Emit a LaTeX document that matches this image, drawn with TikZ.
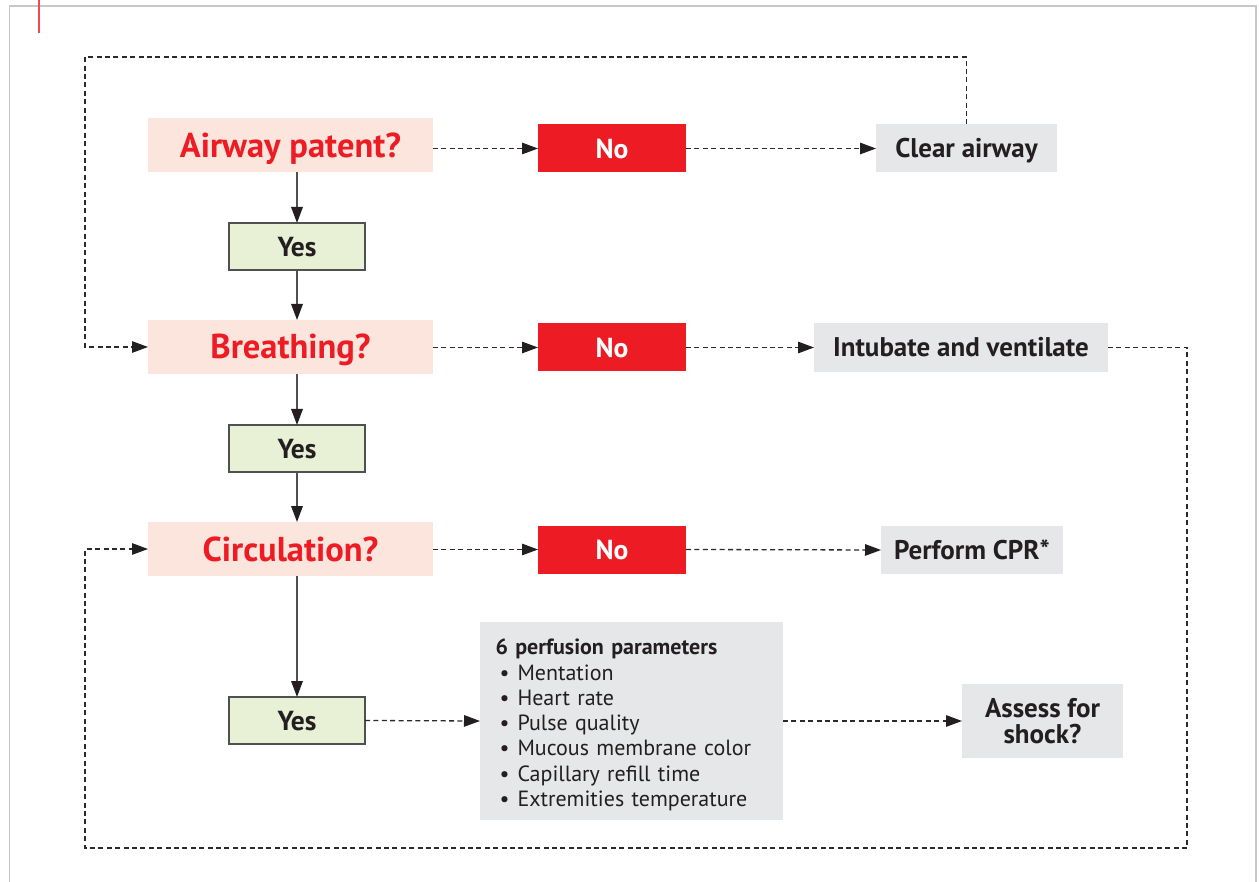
\documentclass[tikz,border=0pt]{standalone}
\usepackage{fontspec}
\setmainfont{PT Sans}
\usetikzlibrary{arrows.meta}
\definecolor{qfill}{HTML}{FCE5DC}
\definecolor{qred}{HTML}{ED1C24}
\definecolor{yfill}{HTML}{E8F0D6}
\definecolor{gfill}{HTML}{E6E7E8}
\definecolor{txt}{HTML}{231F20}
\definecolor{lin}{HTML}{2A2A2A}
\definecolor{slin}{HTML}{505050}
\definecolor{frame}{HTML}{C8C8C8}
\tikzset{
  every node/.style={inner sep=0pt, outer sep=0pt},
  qbox/.style={text height=24pt, text depth=0pt, fill=qfill, text=qred, minimum width=285pt, minimum height=54pt, font=\fontsize{34.5}{38}\selectfont\bfseries},
  nobox/.style={text height=19.3pt, text depth=0pt, fill=qred, text=white, minimum width=148pt, minimum height=48pt, font=\fontsize{27.5}{30}\selectfont\bfseries},
  yesbox/.style={text height=19.3pt, text depth=0pt, fill=yfill, draw=slin, line width=1.3pt, text=txt, minimum width=136pt, minimum height=47pt, font=\fontsize{27.5}{30}\selectfont\bfseries},
  gbox/.style={text height=19pt, text depth=0pt, fill=gfill, text=txt, font=\fontsize{27}{30}\selectfont\bfseries, align=center},
  dline/.style={draw=lin, line width=1.3pt, dash pattern=on 5pt off 3.4pt},
  darrow/.style={dline, -{Triangle[length=16pt,width=11.5pt,color=txt]}},
  sarrow/.style={draw=slin, line width=1.6pt, -{Triangle[length=16pt,width=11.5pt,color=txt]}},
}
\newcommand{\bitem}[1]{\makebox[22pt][l]{\hspace{4pt}\textbullet}#1}
\begin{document}
\begin{tikzpicture}[x=1pt,y=-1pt]
\useasboundingbox (0,0) rectangle (1259,882);
% frame
\draw[frame, line width=1.5pt] (9.5,882) -- (9.5,6) -- (1256,6) -- (1256,882);
\draw[qred!80, line width=1.5pt] (39,0) -- (39,33);

% nodes
\node[qbox] (air) at (290.5,145.5) {Airway patent?};
\node[nobox] (no1) at (612,148.5) {No};
\node[gbox, minimum width=181pt, minimum height=48pt] (clear) at (966.5,148.5) {Clear airway};
\node[yesbox] (y1) at (297,246.5) {Yes};

\node[qbox] (br) at (290.5,347) {Breathing?};
\node[nobox] (no2) at (612,347.5) {No};
\node[gbox, minimum width=294pt, minimum height=49pt] (intub) at (961,347.5) {Intubate and ventilate};
\node[yesbox] (y2) at (297,448.5) {Yes};

\node[qbox] (circ) at (290.5,549) {Circulation?};
\node[nobox] (no3) at (612,549.5) {No};
\node[gbox, minimum width=182pt, minimum height=48pt] (cpr) at (972,550) {Perform CPR*};
\node[yesbox] (y3) at (297,720.5) {Yes};

\node[fill=gfill, minimum width=303pt, minimum height=198pt] (perf) at (631.5,721) {};
\node[text=txt, text width=275pt, align=left, font=\fontsize{22}{25.3}\selectfont] (perftext) at (633,725)
  {\textbf{6 perfusion parameters}\\
   \bitem{Mentation}\\
   \bitem{Heart rate}\\
   \bitem{Pulse quality}\\
   \bitem{Mucous membrane color}\\
   \bitem{Capillary refill time}\\
   \bitem{Extremities temperature}};
\node[fill=gfill, text=txt, align=center, minimum width=161pt, minimum height=74pt, font=\fontsize{27}{26}\selectfont\bfseries] (shock) at (1042.5,721) {Assess for\\shock?};

% loop coordinates
\coordinate (tl) at (85,57);
\coordinate (brc) at (1187,848);
\coordinate (blc) at (85,848);

% solid arrows
\draw[sarrow] (air.south -| y1) -- (y1.north);
\draw[sarrow] (y1.south) -- (y1.south |- br.north);
\draw[sarrow] (y2.north |- br.south) -- (y2.north);
\draw[sarrow] (y2.south) -- (y2.south |- circ.north);
\draw[sarrow] (y3.north |- circ.south) -- (y3.north);

% dashed arrows
\draw[darrow] (air.east |- no1) -- (no1.west);
\draw[darrow] (no1.east) -- (clear.west);
\draw[darrow] (br.east |- no2) -- (no2.west);
\draw[darrow] (no2.east) -- (intub.west);
\draw[darrow] (circ.east |- no3) -- (no3.west);
\draw[darrow] (no3.east) -- (cpr.west);
\draw[darrow] (y3.east) -- (perf.west);
\draw[darrow] (perf.east) -- (shock.west);

% loops
\draw[darrow] (clear.north) |- (tl) |- (br.west);
\draw[darrow] (intub.east) -| (brc) -- (blc) |- (circ.west);
\end{tikzpicture}
\end{document}
